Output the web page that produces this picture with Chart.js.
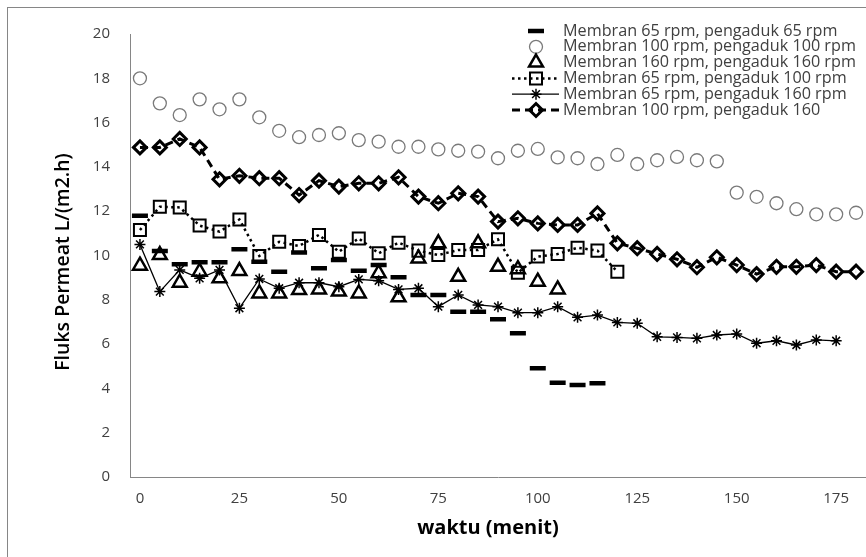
<!DOCTYPE html>
<html>
<head>
<meta charset="utf-8">
<script src="https://cdn.jsdelivr.net/npm/chart.js@4.4.1/dist/chart.umd.min.js"></script>
<style>
    html, body { margin: 0; padding: 0; background: #fff; }
    canvas { display: block; }
</style>
</head>
<body>
<canvas id="grafikFluks" width="866" height="557"></canvas>
<script>
// ======================== DATA ========================
const waktu = [0, 5, 10, 15, 20, 25, 30, 35, 40, 45, 50, 55, 60, 65, 70, 75, 80, 85, 90,
    95, 100, 105, 110, 115, 120, 125, 130, 135, 140, 145, 150, 155, 160, 165, 170, 175, 180];

const fluks65_65 = [11.8, 10.2, 9.6, 9.69, 9.69, 10.28, 9.72, 9.27, 10.13, 9.42, 9.8, 9.31,
    9.57, 9.02, 8.22, 8.22, 7.46, 7.46, 7.12, 6.49, 4.91, 4.26, 4.15, 4.23];
const fluks100_100 = [18.0, 16.87, 16.34, 17.05, 16.6, 17.05, 16.24, 15.63, 15.34, 15.44, 15.52,
    15.21, 15.14, 14.91, 14.91, 14.79, 14.73, 14.69, 14.39, 14.73, 14.81, 14.43, 14.39, 14.13,
    14.54, 14.13, 14.3, 14.45, 14.3, 14.25, 12.84, 12.65, 12.36, 12.09, 11.86, 11.86, 11.93];
const fluks160_160 = [9.54, 10.02, 8.77, 9.27, 8.97, 9.3, 8.29, 8.29, 8.44, 8.47, 8.37, 8.29,
    9.2, 8.11, 9.87, 10.55, 9.04, 10.55, 9.49, 9.38, 8.82, 8.47];
const fluks65_100 = [11.15, 12.2, 12.17, 11.35, 11.08, 11.63, 9.98, 10.62, 10.43, 10.93, 10.17,
    10.77, 10.1, 10.58, 10.22, 10.02, 10.25, 10.25, 10.73, 9.22, 9.95, 10.07, 10.35, 10.22, 9.27];
const fluks65_160 = [10.5, 8.37, 9.35, 8.97, 9.35, 7.62, 8.94, 8.52, 8.77, 8.77, 8.59, 8.92,
    8.86, 8.47, 8.52, 7.69, 8.22, 7.77, 7.69, 7.42, 7.42, 7.69, 7.21, 7.31, 6.98, 6.94, 6.33,
    6.3, 6.26, 6.41, 6.46, 6.04, 6.15, 5.96, 6.19, 6.15];
const fluks100_160 = [14.88, 14.88, 15.26, 14.88, 13.44, 13.6, 13.49, 13.49, 12.73, 13.38, 13.11,
    13.26, 13.26, 13.53, 12.66, 12.36, 12.81, 12.66, 11.53, 11.68, 11.45, 11.38, 11.38, 11.9,
    10.55, 10.33, 10.07, 9.83, 9.47, 9.92, 9.57, 9.16, 9.49, 9.49, 9.57, 9.27, 9.27];

const namaSeri = [
    'Membran 65 rpm, pengaduk 65 rpm',
    'Membran 100 rpm, pengaduk 100 rpm',
    'Membran 160 rpm, pengaduk 160 rpm',
    'Membran 65 rpm, pengaduk 100 rpm',
    'Membran 65 rpm, pengaduk 160 rpm',
    'Membran 100 rpm, pengaduk 160',
];
const judulX = 'waktu (menit)';
const judulY = 'Fluks Permeat L/(m2.h)';

const FONT = '"Open Sans", "DejaVu Sans", sans-serif';

// ======================== PLUGINS ========================
// bingkai abu-abu di sekeliling chart (terpotong di kanan & bawah)
const bingkai = {
    id: 'bingkai',
    beforeDraw(chart) {
        const ctx = chart.ctx;
        ctx.save();
        ctx.fillStyle = '#fff';
        ctx.fillRect(0, 0, chart.width, chart.height);
        ctx.strokeStyle = '#868686';
        ctx.lineWidth = 1;
        ctx.strokeRect(7.5, 7.5, 900, 600);
        ctx.restore();
    },
};

// judul sumbu (posisinya seperti di Excel, sedikit bergeser dari tengah plot)
const judulSumbu = {
    id: 'judulSumbu',
    afterDraw(chart) {
        const ctx = chart.ctx;
        ctx.save();
        ctx.fillStyle = '#000';
        ctx.textAlign = 'center';
        ctx.textBaseline = 'middle';
        ctx.font = 'bold 20px ' + FONT;
        ctx.fillText(judulX, 488, 528);
        ctx.translate(63, 262);
        ctx.rotate(-Math.PI / 2);
        ctx.font = '600 19.5px ' + FONT;
        ctx.fillText(judulY, 0, 0);
        ctx.restore();
    },
};

// legenda manual: garis contoh + marker dari dataset
const legenda = {
    id: 'legenda',
    afterDraw(chart) {
        const ctx = chart.ctx;
        chart.data.datasets.forEach((ds, i) => {
            const y = 31 + i * 15.8;
            ctx.save();
            if (ds.showLine !== false) {
                ctx.strokeStyle = ds.borderColor;
                ctx.lineWidth = ds.borderWidth;
                ctx.setLineDash(ds.borderDash || []);
                ctx.beginPath();
                ctx.moveTo(512, y);
                ctx.lineTo(559, y);
                ctx.stroke();
            }
            ctx.setLineDash([]);
            ctx.strokeStyle = ds.pointBorderColor;
            ctx.fillStyle = ds.pointBackgroundColor;
            ctx.lineWidth = ds.pointBorderWidth;
            Chart.helpers.drawPoint(ctx, {
                pointStyle: ds.pointStyle,
                radius: ds.pointRadius,
                borderWidth: ds.pointBorderWidth,
                rotation: 0,
            }, 536, y);
            ctx.fillStyle = '#404040';
            ctx.font = '16.2px ' + FONT;
            ctx.textBaseline = 'middle';
            ctx.textAlign = 'left';
            ctx.fillText(ds.label, 563, y);
            ctx.restore();
        });
    },
};

// ======================== CHART ========================
new Chart(document.getElementById('grafikFluks'), {
    type: 'line',
    data: {
        labels: waktu,
        datasets: [
            {
                label: namaSeri[0],
                data: fluks65_65,
                showLine: false,
                pointStyle: 'line',
                pointRadius: 8,
                pointBorderWidth: 4.5,
                pointBorderColor: '#000',
                pointBackgroundColor: '#000',
                borderColor: '#000',
                order: 6,
            },
            {
                label: namaSeri[1],
                data: fluks100_100,
                showLine: false,
                pointStyle: 'circle',
                pointRadius: 6.5,
                pointBorderWidth: 1.3,
                pointBorderColor: '#7a7a7a',
                pointBackgroundColor: 'rgba(0,0,0,0)',
                borderColor: '#7a7a7a',
                order: 5,
            },
            {
                label: namaSeri[2],
                data: fluks160_160,
                showLine: false,
                pointStyle: 'triangle',
                pointRadius: 8,
                pointBorderWidth: 2.5,
                pointBorderColor: '#000',
                pointBackgroundColor: 'rgba(0,0,0,0)',
                borderColor: '#000',
                order: 4,
            },
            {
                label: namaSeri[3],
                data: fluks65_100,
                borderColor: '#000',
                borderWidth: 2.5,
                borderDash: [2.5, 3.5],
                pointStyle: 'rect',
                pointRadius: 8.5,
                pointBorderWidth: 2,
                pointBorderColor: '#000',
                pointBackgroundColor: 'rgba(0,0,0,0)',
                order: 3,
            },
            {
                label: namaSeri[4],
                data: fluks65_160,
                borderColor: '#000',
                borderWidth: 1.3,
                pointStyle: 'star',
                pointRadius: 5.5,
                pointBorderWidth: 1.5,
                pointBorderColor: '#000',
                pointBackgroundColor: '#000',
                order: 2,
            },
            {
                label: namaSeri[5],
                data: fluks100_160,
                borderColor: '#000',
                borderWidth: 3,
                borderDash: [8, 5],
                pointStyle: 'rectRot',
                pointRadius: 6.5,
                pointBorderWidth: 3,
                pointBorderColor: '#000',
                pointBackgroundColor: 'rgba(0,0,0,0)',
                order: 1,
            },
        ],
    },
    options: {
        responsive: false,
        animation: false,
        events: [],
        layout: { autoPadding: false, padding: { top: 34, left: 0, right: 0, bottom: 0 } },
        plugins: {
            legend: { display: false },
            tooltip: { enabled: false },
        },
        elements: { line: { tension: 0, fill: false } },
        scales: {
            x: {
                type: 'category',
                offset: true,
                grid: { display: false, drawTicks: false },
                border: { display: true, color: '#868686', width: 1 },
                ticks: {
                    autoSkip: false,
                    maxRotation: 0,
                    padding: 13,
                    color: '#404040',
                    font: { family: FONT, size: 15 },
                    callback: (v, i) => (waktu[i] % 25 === 0 && waktu[i] <= 175 ? waktu[i] : ''),
                },
                afterFit: (s) => {
                    s.height = 80;
                    s.paddingLeft = 0;
                    s.paddingRight = 0;
                },
            },
            y: {
                min: 0,
                max: 20,
                grid: { display: false, drawTicks: false },
                border: { display: true, color: '#868686', width: 1 },
                ticks: {
                    stepSize: 2,
                    padding: 20,
                    color: '#404040',
                    font: { family: FONT, size: 15 },
                },
                afterFit: (s) => {
                    s.width = 130;
                    s.paddingTop = 0;
                    s.paddingBottom = 0;
                },
            },
        },
    },
    plugins: [bingkai, judulSumbu, legenda],
});
</script>
</body>
</html>
